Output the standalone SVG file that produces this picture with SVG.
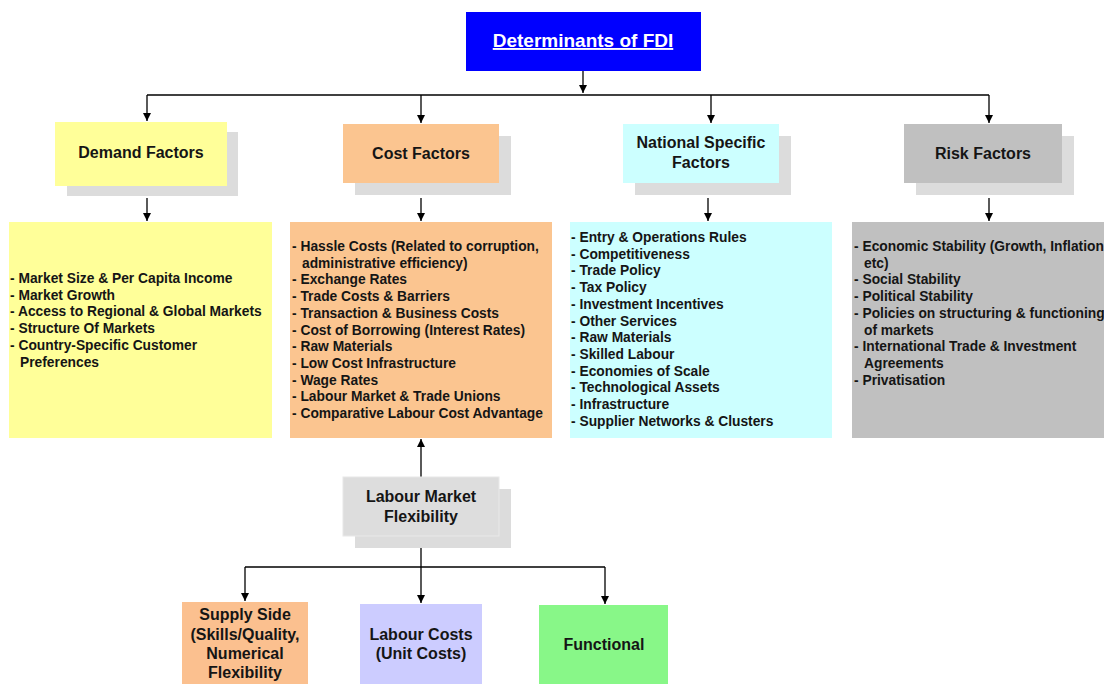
<svg xmlns="http://www.w3.org/2000/svg" width="1104" height="684" viewBox="0 0 1104 684">
<style>
text{font-family:"Liberation Sans",Arial,sans-serif;font-weight:bold;fill:#151515}
.h{font-size:16px;text-anchor:middle}
.l{font-size:13.8px}
.sh{fill:#dcdcdc}
.c{stroke:#000;stroke-width:1.3;fill:none}
</style>
<defs>
<marker id="ar" viewBox="0 0 10 10" refX="10" refY="5" markerWidth="8" markerHeight="8" markerUnits="userSpaceOnUse" orient="auto">
<path d="M0,0 L10,5 L0,10 z" fill="#000"/>
</marker>
</defs>
<rect width="1104" height="684" fill="#fff"/>

<g id="connectors">
<path class="c" d="M583,71 V93" marker-end="url(#ar)"/>
<path class="c" d="M147,95 H989"/>
<path class="c" d="M147,95 V121" marker-end="url(#ar)"/>
<path class="c" d="M421,95 V123" marker-end="url(#ar)"/>
<path class="c" d="M711,95 V123" marker-end="url(#ar)"/>
<path class="c" d="M989,95 V123" marker-end="url(#ar)"/>
<path class="c" d="M147,198 V221" marker-end="url(#ar)"/>
<path class="c" d="M421,198 V221" marker-end="url(#ar)"/>
<path class="c" d="M708,198 V221" marker-end="url(#ar)"/>
<path class="c" d="M989,198 V221" marker-end="url(#ar)"/>
<path class="c" d="M421,477 V439" marker-end="url(#ar)"/>
<path class="c" d="M421,548 V567"/>
<path class="c" d="M245,567 H605"/>
<path class="c" d="M245,567 V601" marker-end="url(#ar)"/>
<path class="c" d="M421,567 V603" marker-end="url(#ar)"/>
<path class="c" d="M605,567 V604" marker-end="url(#ar)"/>
</g>

<g id="title">
<rect x="466" y="12" width="235" height="59" fill="#0000ff"/>
<text x="583" y="47" text-anchor="middle" style="font-size:19px;fill:#fff;text-decoration:underline">Determinants of FDI</text>
</g>

<g id="demand">
<rect class="sh" x="67" y="132" width="171" height="64"/>
<rect x="55" y="122" width="172" height="64" fill="#ffff99"/>
<text class="h" x="141" y="158">Demand Factors</text>
</g>

<g id="cost">
<rect class="sh" x="355" y="136" width="156" height="59"/>
<rect x="343" y="124" width="156" height="59" fill="#fbc590"/>
<text class="h" x="421" y="159">Cost Factors</text>
</g>

<g id="national">
<rect class="sh" x="635" y="136" width="156" height="59"/>
<rect x="623" y="124" width="156" height="59" fill="#ccffff"/>
<text class="h" x="701" y="148">National Specific</text>
<text class="h" x="701" y="168">Factors</text>
</g>

<g id="risk">
<rect class="sh" x="916" y="136" width="158" height="59"/>
<rect x="904" y="124" width="158" height="59" fill="#c0c0c0"/>
<text class="h" x="983" y="159">Risk Factors</text>
</g>

<g id="demand-list">
<rect x="9" y="222" width="263" height="216" fill="#ffff99"/>
<text class="l" x="10" y="283">- Market Size &amp; Per Capita Income</text>
<text class="l" x="10" y="299.7">- Market Growth</text>
<text class="l" x="10" y="316.4">- Access to Regional &amp; Global Markets</text>
<text class="l" x="10" y="333.1">- Structure Of Markets</text>
<text class="l" x="10" y="349.8">- Country-Specific Customer</text>
<text class="l" x="20" y="366.5">Preferences</text>
</g>

<g id="cost-list">
<rect x="290" y="222" width="262" height="216" fill="#fbc590"/>
<text class="l" x="292" y="251">- Hassle Costs (Related to corruption,</text>
<text class="l" x="302" y="267.7">administrative efficiency)</text>
<text class="l" x="292" y="284.4">- Exchange Rates</text>
<text class="l" x="292" y="301.1">- Trade Costs &amp; Barriers</text>
<text class="l" x="292" y="317.8">- Transaction &amp; Business Costs</text>
<text class="l" x="292" y="334.5">- Cost of Borrowing (Interest Rates)</text>
<text class="l" x="292" y="351.2">- Raw Materials</text>
<text class="l" x="292" y="367.9">- Low Cost Infrastructure</text>
<text class="l" x="292" y="384.6">- Wage Rates</text>
<text class="l" x="292" y="401.3">- Labour Market &amp; Trade Unions</text>
<text class="l" x="292" y="418">- Comparative Labour Cost Advantage</text>
</g>

<g id="national-list">
<rect x="570" y="222" width="262" height="216" fill="#ccffff"/>
<text class="l" x="571" y="242">- Entry &amp; Operations Rules</text>
<text class="l" x="571" y="258.7">- Competitiveness</text>
<text class="l" x="571" y="275.4">- Trade Policy</text>
<text class="l" x="571" y="292.1">- Tax Policy</text>
<text class="l" x="571" y="308.8">- Investment Incentives</text>
<text class="l" x="571" y="325.5">- Other Services</text>
<text class="l" x="571" y="342.2">- Raw Materials</text>
<text class="l" x="571" y="358.9">- Skilled Labour</text>
<text class="l" x="571" y="375.6">- Economies of Scale</text>
<text class="l" x="571" y="392.3">- Technological Assets</text>
<text class="l" x="571" y="409">- Infrastructure</text>
<text class="l" x="571" y="425.7">- Supplier Networks &amp; Clusters</text>
</g>

<g id="risk-list">
<rect x="852" y="222" width="252" height="216" fill="#c0c0c0"/>
<text class="l" x="854" y="251">- Economic Stability (Growth, Inflation</text>
<text class="l" x="864" y="267.7">etc)</text>
<text class="l" x="854" y="284.4">- Social Stability</text>
<text class="l" x="854" y="301.1">- Political Stability</text>
<text class="l" x="854" y="317.8">- Policies on structuring &amp; functioning</text>
<text class="l" x="864" y="334.5">of markets</text>
<text class="l" x="854" y="351.2">- International Trade &amp; Investment</text>
<text class="l" x="864" y="367.9">Agreements</text>
<text class="l" x="854" y="384.6">- Privatisation</text>
</g>

<g id="labour-market">
<rect class="sh" x="355" y="489" width="156" height="59"/>
<rect x="343" y="477" width="156" height="59" fill="#dddddd" stroke="#e8e8e8"/>
<text class="h" x="421" y="502">Labour Market</text>
<text class="h" x="421" y="522">Flexibility</text>
</g>

<g id="supply-side">
<rect x="182" y="602" width="126" height="82" fill="#fbc08f"/>
<text class="h" x="245" y="620">Supply Side</text>
<text class="h" x="245" y="640">(Skills/Quality,</text>
<text class="h" x="245" y="659">Numerical</text>
<text class="h" x="245" y="678">Flexibility</text>
</g>

<g id="labour-costs">
<rect x="360" y="604" width="122" height="80" fill="#ccccff"/>
<text class="h" x="421" y="640">Labour Costs</text>
<text class="h" x="421" y="659">(Unit Costs)</text>
</g>

<g id="functional">
<rect x="539" y="605" width="129" height="79" fill="#88f788"/>
<text class="h" x="604" y="650">Functional</text>
</g>
</svg>
